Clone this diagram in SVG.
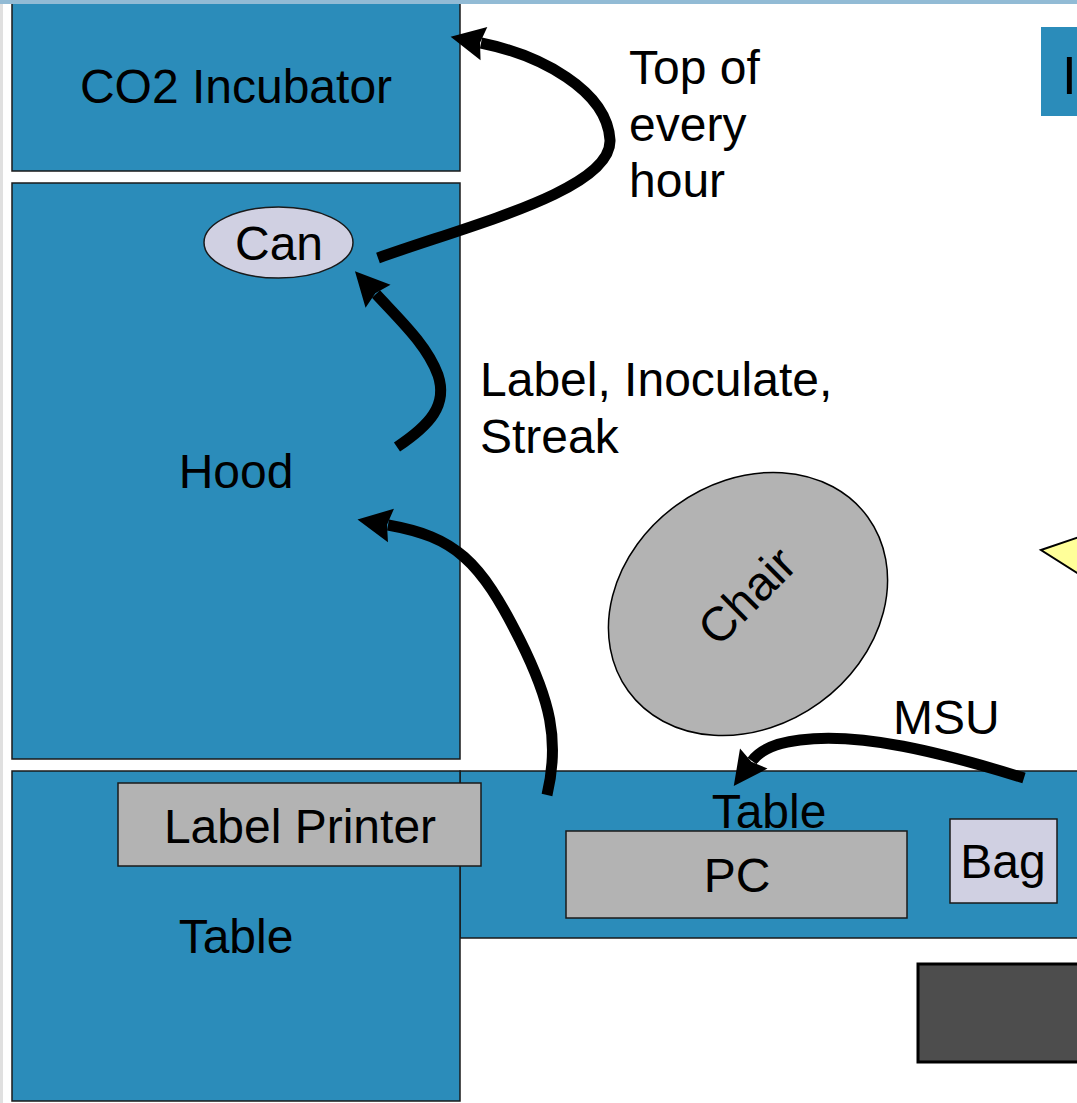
<svg xmlns="http://www.w3.org/2000/svg" width="1077" height="1103" viewBox="0 0 1077 1103">
<style>
text{font-family:"Liberation Sans",Arial,sans-serif;font-size:48px;fill:#000}
.c{text-anchor:middle}
.blue{fill:#2b8cba;stroke:#1a1a1a;stroke-width:1.5}
.gray{fill:#b3b3b3;stroke:#1a1a1a;stroke-width:1.5}
.lav{fill:#d0d0e2;stroke:#1a1a1a;stroke-width:1.5}
.arrow{fill:none;stroke:#000;stroke-width:11;marker-end:url(#head)}
</style>
<defs>
<marker id="head" markerUnits="userSpaceOnUse" orient="auto" markerWidth="40" markerHeight="40" refX="3" refY="0" viewBox="0 -20 40 40" overflow="visible">
<path d="M0,-17 L34,0 L0,17 L4,0 Z" fill="#000"/>
</marker>
</defs>
<rect x="0" y="0" width="1077" height="1103" fill="#fff"/>
<rect x="0" y="0" width="3" height="1103" fill="#e0e0e0"/>
<g id="co2-incubator"><rect class="blue" x="12" y="0" width="448" height="171"/><text class="c" x="236" y="103">CO2 Incubator</text></g>
<rect x="0" y="0" width="1077" height="4" fill="#92bbd5"/>
<g id="hood"><rect class="blue" x="12" y="183" width="448" height="576"/><text class="c" x="236" y="488">Hood</text></g>
<g id="table-right"><rect class="blue" x="460" y="771" width="630" height="167"/><text class="c" x="769" y="828">Table</text></g>
<g id="table-left"><rect class="blue" x="12" y="771" width="448" height="330"/><text class="c" x="236" y="953">Table</text></g>
<g id="label-printer"><rect class="gray" x="118" y="783" width="363" height="83"/><text class="c" x="300" y="843">Label Printer</text></g>
<g id="pc"><rect class="gray" x="566" y="831" width="341" height="87"/><text class="c" x="737" y="892">PC</text></g>
<g id="bag"><rect class="lav" x="950" y="819" width="107" height="84"/><text class="c" x="1003" y="878">Bag</text></g>
<g id="can"><ellipse class="lav" cx="278.5" cy="242.5" rx="74.5" ry="35.5"/><text class="c" x="279" y="260">Can</text></g>
<g id="chair"><ellipse fill="#b3b3b3" stroke="#000" stroke-width="1.5" cx="748" cy="604" rx="148" ry="122" transform="rotate(-36 748 604)"/><text class="c" x="748" y="612" transform="rotate(-45 748 597)">Chair</text></g>
<g id="dark-box"><rect x="918" y="964" width="170" height="98" fill="#4d4d4d" stroke="#000" stroke-width="3"/></g>
<g id="top-right-box"><rect x="1041" y="27" width="40" height="89" fill="#2b8cba"/><text x="1062" y="94" style="font-size:53px">I</text></g>
<g id="yellow-shape"><polygon points="1041,550 1082,536 1082,576" fill="#ffff99" stroke="#000" stroke-width="2"/></g>
<g id="labels">
<text x="629" y="84">Top of</text>
<text x="629" y="141">every</text>
<text x="629" y="197">hour</text>
<text x="480" y="396">Label, Inoculate,</text>
<text x="480" y="453">Streak</text>
<text x="893" y="734">MSU</text>
</g>
<g id="connectors">
<path class="arrow" d="M378,258 C470,225 612,190 610,140 C607,90 540,55 481,43"/>
<path class="arrow" d="M397,447 C430,425 448,405 438,375 C427,345 400,320 376,294"/>
<path class="arrow" d="M547,795 C560,740 550,700 520,640 C480,560 455,537 388,525"/>
<path class="arrow" d="M1024,778 C940,752 860,732 800,740 C775,743 760,750 752,761"/>
</g>
</svg>
